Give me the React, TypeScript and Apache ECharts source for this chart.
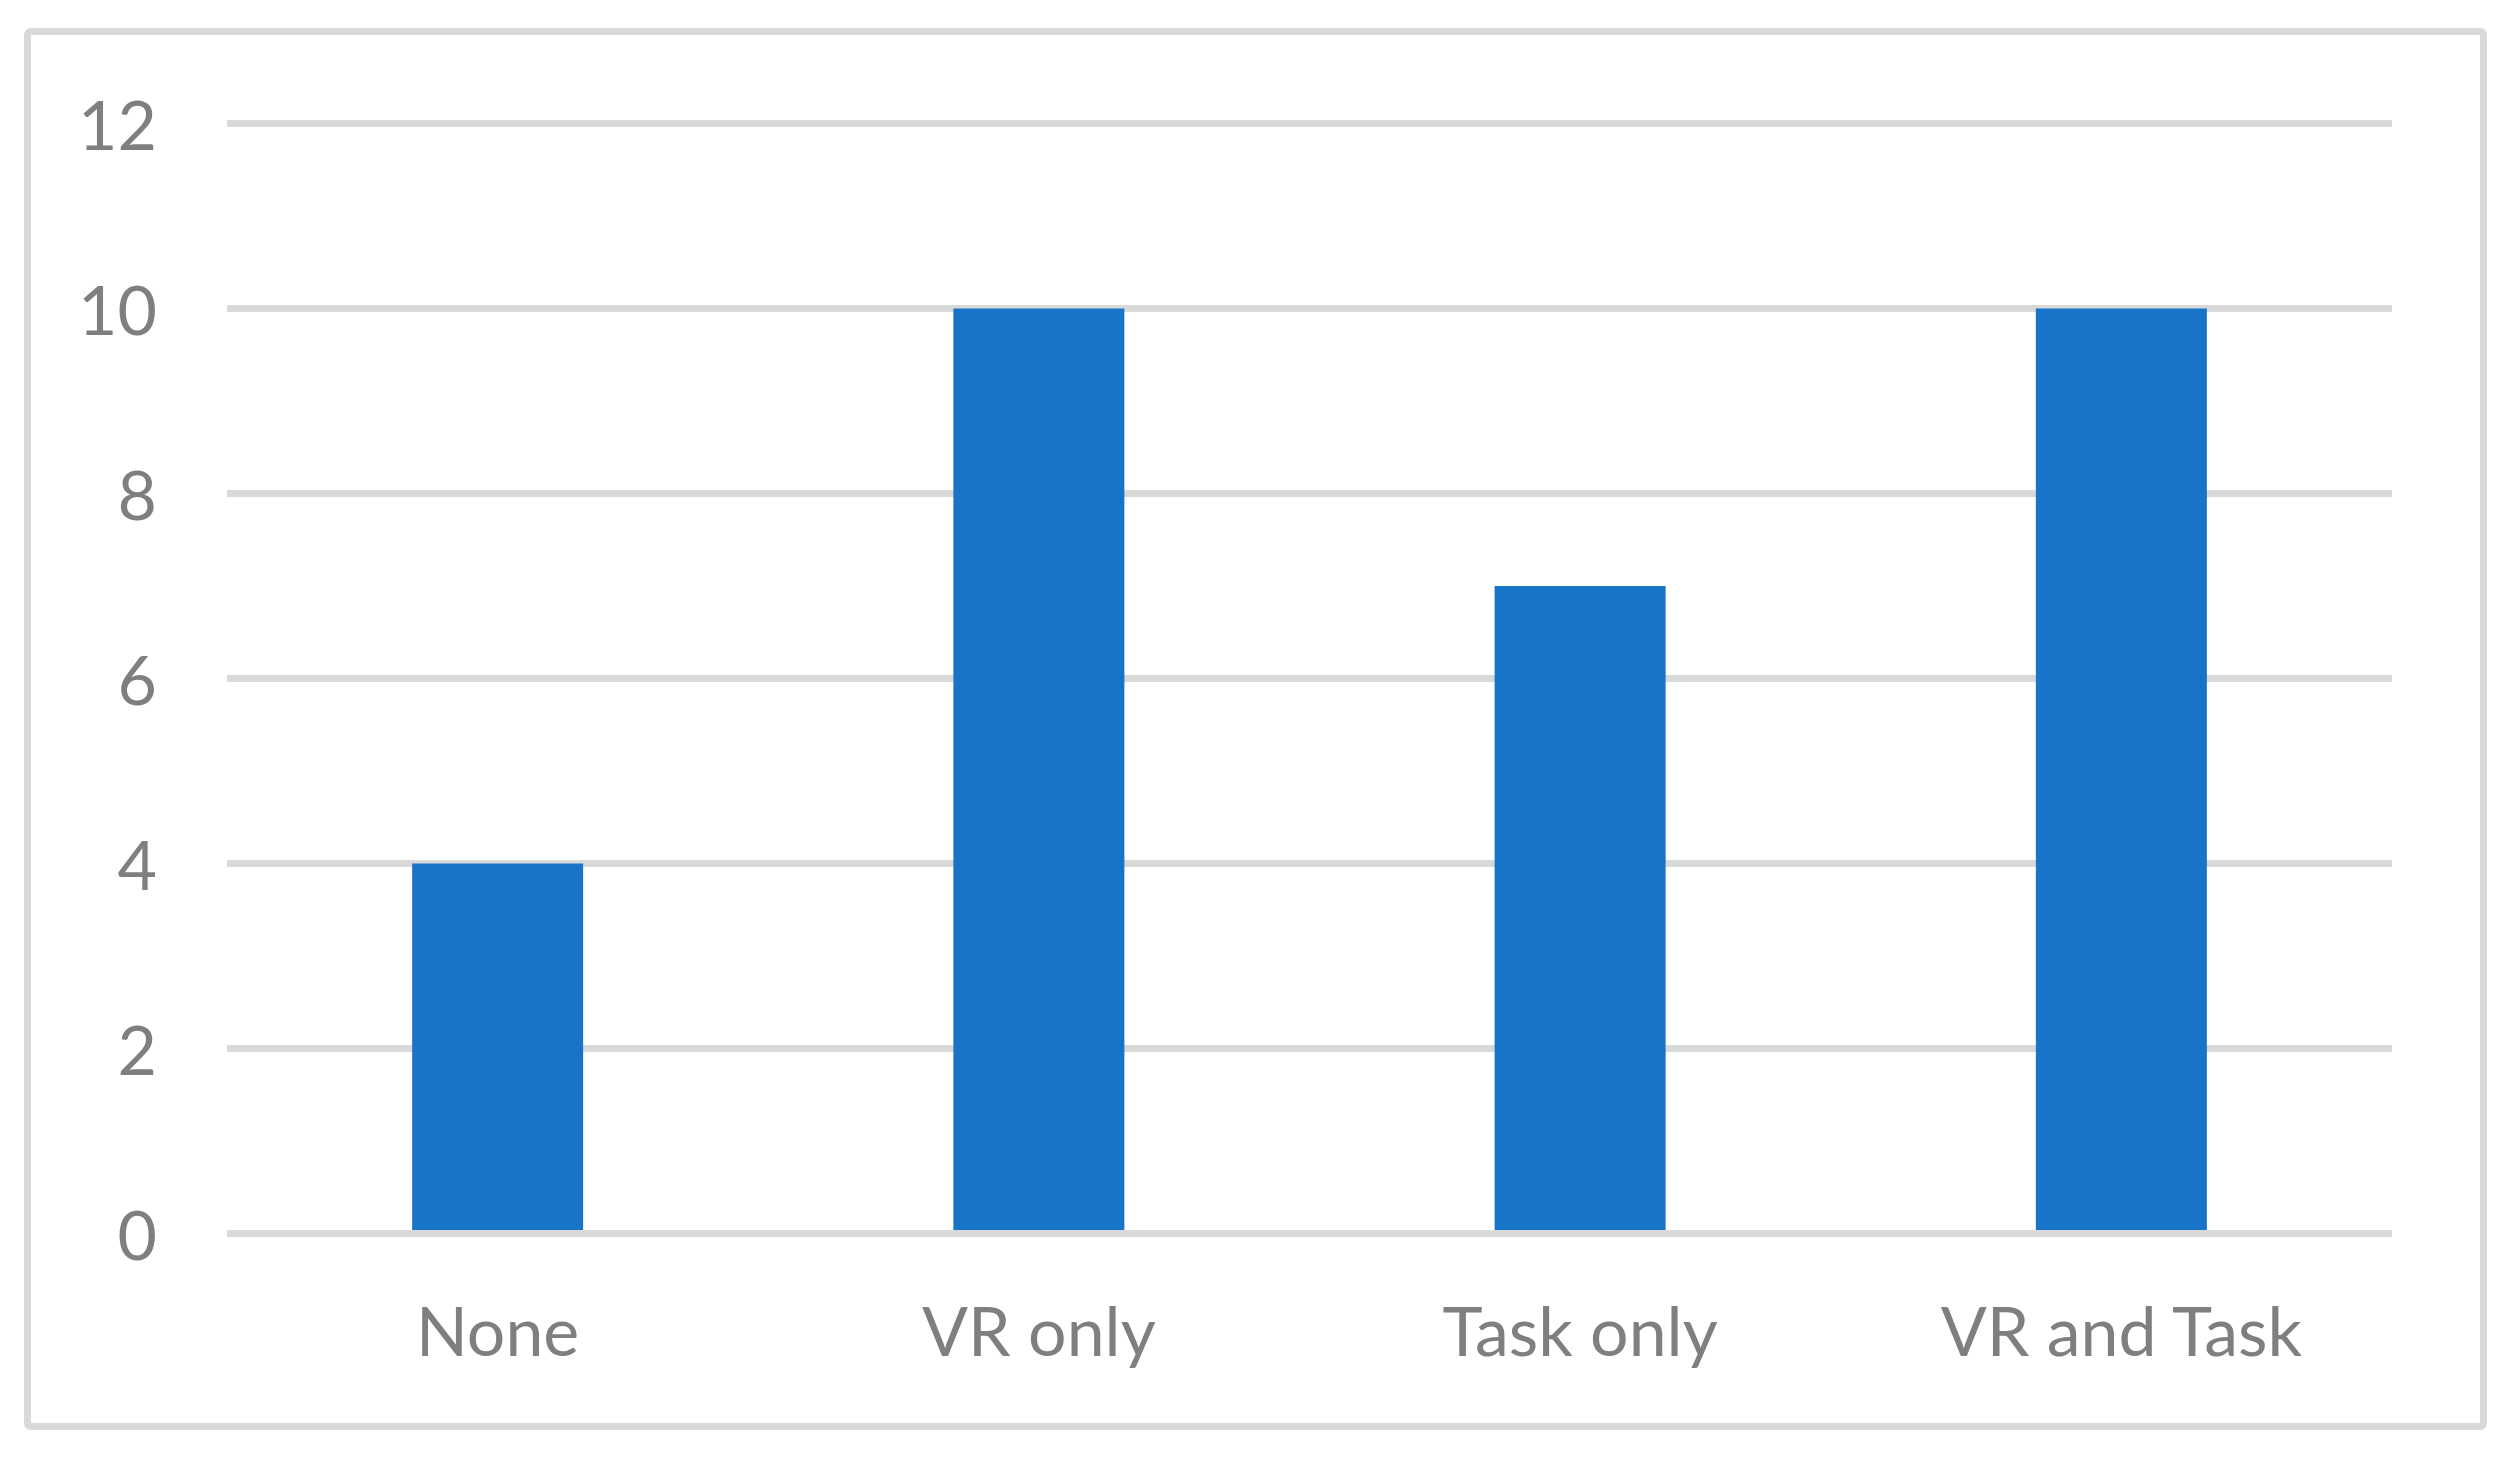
import React, { useEffect, useRef } from "react";
import * as echarts from "echarts";

const categories = ["None", "VR only", "Task only", "VR and Task"];
const values = [4, 10, 7, 10];
const yTicks = [0, 2, 4, 6, 8, 10, 12];

const W = 2517;
const H = 1461;

export default function App() {
  const ref = useRef<HTMLDivElement>(null);
  useEffect(() => {
    document.body.style.margin = "0";
    const chart = echarts.init(ref.current!, null, { renderer: "svg" });
    chart.setOption({
      animation: false,
      backgroundColor: "#ffffff",
      textStyle: { fontFamily: "Lato" },
      grid: { left: 227, right: 125, top: 123.5, bottom: 227.5, containLabel: false },
      xAxis: {
        type: "category",
        data: categories,
        z: 3,
        axisLine: { show: true, lineStyle: { color: "#d9d9d9", width: 7, cap: "butt" } },
        axisTick: { show: false },
        axisLabel: { color: "#7f7f7f", fontSize: 68, fontFamily: "Lato", margin: 62 },
        splitLine: { show: false },
      },
      yAxis: {
        type: "value",
        min: yTicks[0],
        max: yTicks[yTicks.length - 1],
        interval: 2,
        axisLine: { show: false },
        axisTick: { show: false },
        axisLabel: { color: "#7f7f7f", fontSize: 68, fontFamily: "Lato", margin: 70 },
        splitLine: { show: true, lineStyle: { color: "#d9d9d9", width: 7, cap: "butt" } },
      },
      series: [
        {
          type: "bar",
          data: values,
          barWidth: 171,
          itemStyle: { color: "#1874C9" },
        },
      ],
      graphic: [
        {
          type: "rect",
          shape: { x: 27.5, y: 31.5, width: 2456, height: 1395, r: 3 },
          style: { fill: "none", stroke: "#d9d9d9", lineWidth: 7 },
          silent: true,
        },
      ],
    });
    return () => chart.dispose();
  }, []);
  return (
    <div
      ref={ref}
      style={{ position: "fixed", left: 0, top: 0, width: W, height: H }}
    />
  );
}
